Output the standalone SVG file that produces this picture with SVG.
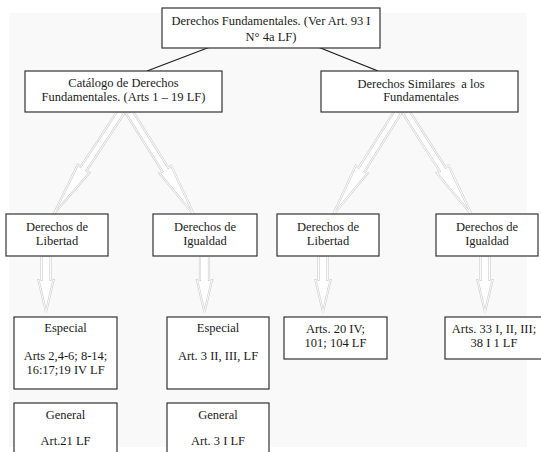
<svg xmlns="http://www.w3.org/2000/svg" width="541" height="452" viewBox="0 0 541 452">
<style>
.box{fill:#fff;stroke:#333;stroke-width:1.2}
.t{font-family:"Liberation Serif","Times New Roman",serif;font-size:12.5px;fill:#1a1a1a;text-anchor:middle}
.ln{stroke:#1a1a1a;stroke-width:1.2;fill:none}
.ha{fill:#fff;stroke:#cfcfcf;stroke-width:2.2;stroke-linejoin:miter}
.hb{fill:none;stroke:#fff;stroke-width:0.9}
</style>
<defs>
<polygon id="diag" points="-3.5,0 -3.5,68 -7,68 0,122 7,68 3.5,68 3.5,0"/>
<polygon id="vert" points="-4.5,0 -4.5,24 -7.5,24 0,56 7.5,24 4.5,24 4.5,0"/>
</defs>
<rect x="0" y="0" width="541" height="452" fill="#fff"/>
<rect x="9" y="13" width="518" height="434" fill="#f9f9f9"/>
<g id="connectors">
<line class="ln" x1="210" y1="47" x2="147" y2="71"/>
<line class="ln" x1="318" y1="47" x2="378" y2="71"/>
<g transform="translate(121,112) rotate(33.4)"><use href="#diag" class="ha"/><use href="#diag" class="hb"/></g>
<g transform="translate(129,112) rotate(-32.3)"><use href="#diag" class="ha"/><use href="#diag" class="hb"/></g>
<g transform="translate(398,112) rotate(32.3)"><use href="#diag" class="ha"/><use href="#diag" class="hb"/></g>
<g transform="translate(406,112) rotate(-32.6)"><use href="#diag" class="ha"/><use href="#diag" class="hb"/></g>
<g transform="translate(46,256)"><use href="#vert" class="ha"/><use href="#vert" class="hb"/></g>
<g transform="translate(204.5,256)"><use href="#vert" class="ha"/><use href="#vert" class="hb"/></g>
<g transform="translate(323,256)"><use href="#vert" class="ha"/><use href="#vert" class="hb"/></g>
<g transform="translate(485,256)"><use href="#vert" class="ha"/><use href="#vert" class="hb"/></g>
</g>
<g id="n-root">
<rect class="box" x="162" y="8" width="218" height="40"/>
<text class="t" x="271" y="25">Derechos Fundamentales. (Ver Art. 93 I</text>
<text class="t" x="271" y="41">N° 4a LF)</text>
</g>
<g id="n-catalogo">
<rect class="box" x="25" y="71" width="197" height="41"/>
<text class="t" x="123.5" y="87">Catálogo de Derechos</text>
<text class="t" x="123.5" y="101">Fundamentales. (Arts 1 – 19 LF)</text>
</g>
<g id="n-similares">
<rect class="box" x="321" y="71" width="197" height="41"/>
<text class="t" x="421" y="88" xml:space="preserve">Derechos Similares  a los</text>
<text class="t" x="421" y="101">Fundamentales</text>
</g>
<g id="n-libertad-1">
<rect class="box" x="6" y="214" width="102" height="42"/>
<text class="t" x="57" y="231">Derechos de</text>
<text class="t" x="57" y="245">Libertad</text>
</g>
<g id="n-igualdad-1">
<rect class="box" x="153" y="214" width="104" height="42"/>
<text class="t" x="205" y="231">Derechos de</text>
<text class="t" x="205" y="245">Igualdad</text>
</g>
<g id="n-libertad-2">
<rect class="box" x="277" y="214" width="102" height="42"/>
<text class="t" x="328" y="231">Derechos de</text>
<text class="t" x="328" y="245">Libertad</text>
</g>
<g id="n-igualdad-2">
<rect class="box" x="436" y="214" width="102" height="42"/>
<text class="t" x="487" y="231">Derechos de</text>
<text class="t" x="487" y="245">Igualdad</text>
</g>
<g id="n-especial-1">
<rect class="box" x="14" y="317" width="103" height="72"/>
<text class="t" x="65.5" y="332">Especial</text>
<text class="t" x="65.5" y="360">Arts 2,4-6; 8-14;</text>
<text class="t" x="65.5" y="374">16:17;19 IV LF</text>
</g>
<g id="n-especial-2">
<rect class="box" x="167" y="317" width="102" height="72"/>
<text class="t" x="218" y="332">Especial</text>
<text class="t" x="218" y="360">Art. 3 II, III, LF</text>
</g>
<g id="n-general-1">
<rect class="box" x="14" y="403" width="103" height="60"/>
<text class="t" x="65.5" y="419">General</text>
<text class="t" x="65.5" y="445">Art.21 LF</text>
</g>
<g id="n-general-2">
<rect class="box" x="167" y="403" width="102" height="60"/>
<text class="t" x="218" y="419">General</text>
<text class="t" x="218" y="445">Art. 3 I LF</text>
</g>
<g id="n-arts-20">
<rect class="box" x="284" y="317" width="103" height="42"/>
<text class="t" x="335.5" y="333">Arts. 20 IV;</text>
<text class="t" x="335.5" y="347">101; 104 LF</text>
</g>
<g id="n-arts-33">
<rect class="box" x="445" y="317" width="100" height="42"/>
<text class="t" x="494" y="333">Arts. 33 I, II, III;</text>
<text class="t" x="494" y="347">38 I 1 LF</text>
</g>
</svg>
